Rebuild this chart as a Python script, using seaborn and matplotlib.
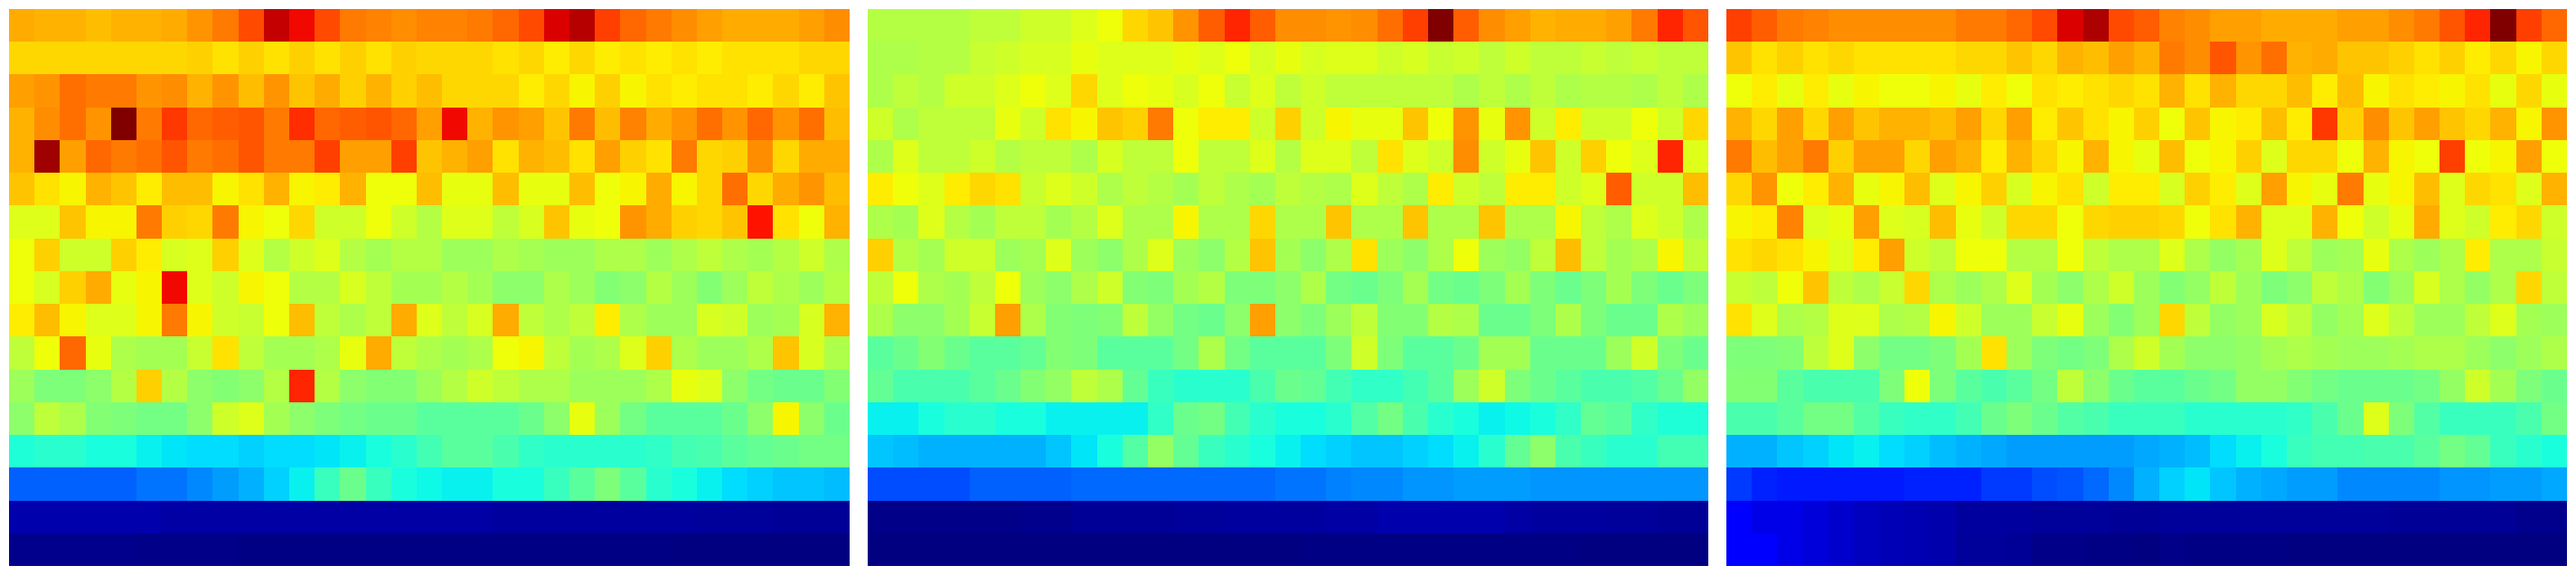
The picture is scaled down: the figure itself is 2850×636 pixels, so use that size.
import numpy as np
import pandas as pd
import matplotlib
matplotlib.use('Agg')
import matplotlib.pyplot as plt
import seaborn as sns

# values, 0-100 on the jet scale, top row first
panel_a = [
    [73,72,72,71,72,72,73,75,78,83,94,90,83,78,77,76,77, 77,78,80,83,92,95,84,80,78,76,74,73,73,73,74,76],
    [68,68,68,68,68,68,68,69,67,69,67,69,67,69,67,69,68, 68,68,67,68,66,68,66,67,66,67,66,67,67,67,68,68],
    [74,75,79,78,78,75,76,72,75,71,75,70,73,69,72,69,71, 68,68,68,66,68,65,69,65,67,66,67,67,66,68,66,70],
    [72,76,79,75,100,78,85,80,81,82,78,86,80,81,82,80,74, 90,72,75,74,70,78,71,77,73,75,79,75,80,75,79,71],
    [72,97,74,80,78,79,82,78,79,82,78,78,84,74,74,84,70, 72,74,67,72,71,67,74,69,67,78,68,69,76,68,73,73],
    [70,67,65,72,70,66,71,71,65,67,72,65,66,72,64,64,71, 63,63,71,63,63,71,64,65,73,65,68,79,68,73,75,71],
    [62,62,70,65,65,78,69,68,78,65,64,68,60,60,64,60,57, 62,62,58,61,70,63,64,75,73,69,68,70,89,67,64,72],
    [64,69,60,60,69,66,61,62,69,62,57,60,62,57,55,57,57, 54,54,56,55,54,54,56,56,54,56,58,56,55,57,60,56],
    [64,61,69,73,63,65,90,62,60,65,64,57,57,61,58,55,55, 57,55,52,52,56,54,51,52,57,54,51,54,58,56,54,57],
    [66,71,65,62,62,65,78,65,60,59,64,71,58,56,58,73,62, 58,61,73,58,56,58,66,56,54,54,61,60,54,55,61,72],
    [58,64,80,63,56,55,55,59,67,58,55,55,56,63,73,58,56, 55,56,64,65,58,55,56,62,69,56,54,54,56,70,61,56],
    [54,50,50,52,57,69,57,52,51,52,57,87,57,52,51,51,54, 57,60,58,56,56,54,54,54,56,63,62,52,49,48,48,51],
    [52,58,56,51,50,49,49,52,60,62,55,52,50,49,48,48,46, 46,46,46,48,52,63,54,49,46,46,46,48,52,65,52,48],
    [39,40,40,38,38,36,35,34,34,33,34,34,35,36,38,40,43, 46,46,44,41,40,40,40,40,41,43,44,46,47,48,49,49],
    [22,22,22,22,22,24,24,26,28,30,33,36,42,48,42,38,37, 36,36,38,38,42,46,50,46,40,38,36,34,33,32,32,31],
    [4,4,4,4,4,4,3.5,3.5,3.5,3.5,3.5,3.5,3.5,3.5,3.5,3.5,3.5, 3.5,3.5,3,3,3,3,3,3,3,3,2.5,2.5,2.5,2,2,2],
    [1.5,1.5,1.5,1.5,1.5,1,1,1,1,.5,.5,.5,.5,.5,.5,.5,.5, .5,.5,.5,.5,.5,.5,.5,.5,.5,0,0,0,0,0,0,0],
]

panel_b = [
    [57,57,57,57,58,58,60,60,62,64,68,70,75,81,87,81,76, 76,75,76,79,84,100,81,76,74,72,73,73,74,78,87,82],
    [56,56,57,57,59,60,61,61,63,62,62,62,63,62,64,61,63, 61,62,62,60,61,59,60,58,60,58,58,59,58,59,58,58],
    [56,58,57,60,60,62,64,62,68,62,64,63,61,64,59,62,58, 60,58,58,58,58,58,56,58,56,58,56,57,57,56,58,56],
    [60,56,58,58,58,63,60,67,65,70,69,78,64,66,66,60,69, 60,65,63,63,70,64,75,63,75,60,66,60,60,64,60,68],
    [56,62,58,58,60,57,58,58,56,61,58,58,64,58,58,62,57, 62,62,58,67,62,60,76,60,63,70,60,69,64,62,87,62],
    [66,64,62,66,68,67,59,62,60,56,58,57,55,58,56,55,58, 57,56,62,58,56,66,60,58,66,66,60,62,81,60,60,71],
    [56,55,62,57,55,58,58,55,57,62,56,56,65,56,56,68,56, 56,70,56,56,70,56,56,70,56,56,65,58,56,62,60,56],
    [69,57,55,60,60,54,55,62,54,52,56,62,54,52,57,70,55, 52,56,67,54,52,56,64,54,53,58,71,58,55,56,65,58],
    [58,64,56,55,58,64,54,52,56,60,51,50,55,57,50,50,52, 56,49,48,50,55,49,48,50,55,50,48,50,55,50,48,50],
    [56,52,52,55,59,74,56,51,50,51,58,53,49,48,52,74,52, 50,54,58,51,51,57,56,48,48,50,56,50,48,48,56,54],
    [46,48,51,48,46,46,47,51,50,46,46,46,49,56,49,46,46, 46,50,60,50,46,46,48,55,55,48,48,48,54,60,50,48],
    [47,44,44,44,46,48,51,53,58,56,47,42,40,40,40,44,48, 47,43,41,41,43,46,54,60,50,48,46,44,44,45,48,53],
    [36,36,38,40,40,38,38,36,36,36,36,41,48,49,43,40,38, 38,40,45,49,44,40,38,36,37,38,41,47,46,41,39,39],
    [32,31,30,30,30,30,30,32,35,38,45,53,47,42,40,38,36, 34,33,32,32,33,34,36,40,47,52,44,42,40,40,43,43],
    [20,20,20,20,22,22,22,22,23,23,23,23,23,23,23,23,24, 24,25,26,26,27,27,28,28,28,27,27,27,27,27,27,27],
    [1,1,1,1,1,1,1.5,1.5,2,2,2,2,2.5,2.5,3,3,3, 3,3.5,3.5,4,4,4,4,4,3.5,3,3,3,2.5,2.5,2,2],
    [0,0,0,0,0,0,0,0,0,0,0,0,0,0,0,0,0, .5,.5,.5,.5,.5,.5,.5,.5,.5,.5,.5,0,0,0,0,0],
]

panel_c = [
    [84,81,78,77,76,76,76,76,76,78,78,80,83,92,96,83,81, 77,76,74,74,73,73,73,74,74,76,78,82,87,100,84,80],
    [70,67,69,67,68,67,67,67,67,68,68,70,68,72,71,74,72, 78,76,82,75,79,72,73,70,70,69,67,69,66,68,65,68],
    [64,66,63,66,63,65,64,64,65,63,66,64,67,66,67,68,67, 72,67,72,68,68,71,66,71,65,67,66,65,67,63,68,63],
    [72,68,74,68,74,70,72,72,71,74,68,74,66,70,67,65,69, 64,70,65,66,71,66,85,69,76,70,74,70,68,72,65,75],
    [78,71,74,78,69,74,74,68,74,72,66,72,68,65,72,65,63, 71,64,65,69,62,68,68,64,72,65,64,84,64,65,74,64],
    [68,75,64,66,72,63,65,71,62,65,69,61,65,67,60,66,66, 61,69,66,62,74,65,63,78,63,65,71,62,68,67,62,72],
    [65,66,77,62,63,74,62,61,71,63,60,68,68,64,68,69,69, 68,64,67,72,62,62,72,64,60,63,73,62,60,66,68,60],
    [67,68,67,65,62,66,74,60,58,64,64,57,57,64,58,56,56, 62,56,53,55,62,58,54,55,63,56,54,56,66,56,56,59],
    [59,58,64,70,58,56,59,68,56,54,56,62,55,52,56,60,54, 51,53,58,54,50,52,58,56,51,54,61,56,53,56,68,58],
    [67,62,56,57,62,62,56,57,65,60,54,54,59,63,54,51,54, 68,58,53,54,61,58,53,55,62,58,54,54,58,62,55,54],
    [50,50,51,58,62,52,49,49,50,55,67,54,50,49,50,56,60, 55,52,52,53,55,56,55,54,54,55,56,56,54,52,54,56],
    [51,51,46,44,44,44,50,64,50,46,44,46,49,58,52,48,46, 46,48,49,53,53,51,49,48,48,48,49,53,60,55,50,48],
    [44,44,46,49,49,45,42,41,41,43,48,50,48,45,44,42,42, 42,40,40,40,40,41,44,48,62,50,45,42,42,42,44,49],
    [30,30,32,33,35,36,34,33,31,30,29,28,28,28,28,28,29, 30,31,34,36,38,42,43,43,44,44,46,49,47,42,40,38],
    [18,16,15,15,15,15,15,16,16,16,18,18,20,21,23,26,30, 33,35,32,30,29,28,28,26,26,26,26,27,27,28,28,29],
    [11,9,9,8,7,5.5,5,4.5,4,3,3,3,2.5,2.5,2.5,2,2, 2.5,2.5,2.5,2.5,2.5,2.5,2.5,2.5,2.5,2,2,2,2,2,1.5,1.5],
    [11,11,9,8,7,5.5,5,4.5,4,2.5,2.5,2,1,1,.5,.5,0, 1,.5,.5,.5,.5,0,0,0,0,0,0,0,0,0,0,0],
]

fig, axes = plt.subplots(1, 3, figsize=(28.5, 6.36), dpi=100)
fig.subplots_adjust(left=10/2850, right=2840/2850, bottom=10/636, top=626/636, wspace=20/930)

for ax, panel in zip(axes, [panel_a, panel_b, panel_c]):
    sns.heatmap(pd.DataFrame(panel), ax=ax, cmap='jet', vmin=0, vmax=100, cbar=False,
                xticklabels=False, yticklabels=False)
    ax.set_xlabel('')
    ax.set_ylabel('')

fig.savefig('out.png', dpi=100)
